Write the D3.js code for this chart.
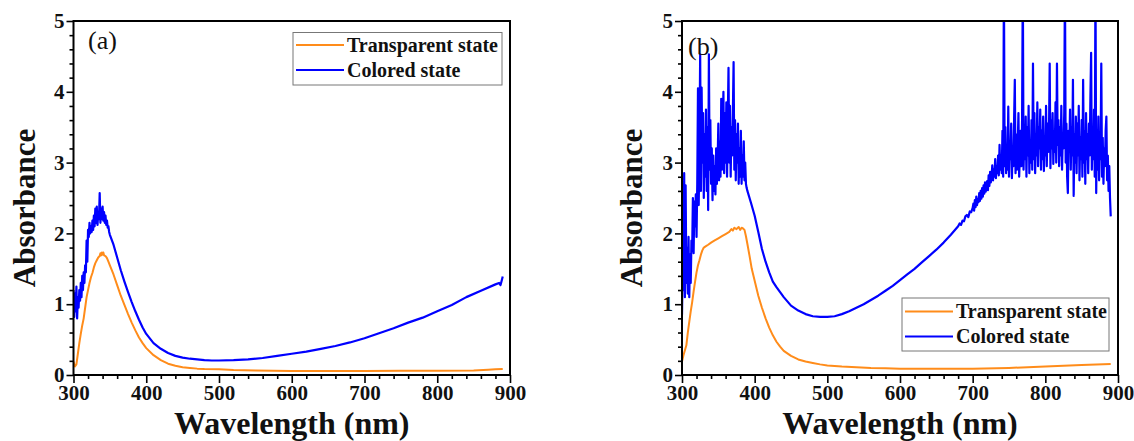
<!DOCTYPE html>
<html>
<head>
<meta charset="utf-8">
<script src="https://cdn.jsdelivr.net/npm/d3@7/dist/d3.min.js"></script>
<style>
  html, body { margin: 0; padding: 0; background: #fff; }
  svg { display: block; }
  text { font-family: "Liberation Serif", "Times New Roman", serif; }
</style>
</head>
<body>
<svg id="chart" width="1134" height="441"></svg>
<script>
// ---- axis ticks ----
const xTickLabels = [300, 400, 500, 600, 700, 800, 900];
const yTickLabels = [0, 1, 2, 3, 4, 5];
const seriesNames = ["Transparent state", "Colored state"];
const panelTags = ["(a)", "(b)"];

// ---- panel (a): [wavelength nm, absorbance] ----
const transparentA = [
  [300,0.19],[302,0.12],[304,0.15],[306,0.30],[308,0.45],[310,0.58],[312,0.70],[314,0.80],
  [316,0.95],[318,1.10],[320,1.20],[322,1.30],[324,1.38],[326,1.44],[328,1.52],[330,1.58],
  [332,1.62],[334,1.66],[336,1.68],[337,1.72],[338,1.69],[339,1.73],[340,1.70],[341,1.73],
  [342,1.69],[344,1.68],[346,1.65],[348,1.60],[350,1.55],[355,1.42],[360,1.27],[365,1.12],
  [370,0.99],[375,0.86],[380,0.74],[385,0.63],[390,0.53],[395,0.45],[400,0.38],[410,0.28],
  [420,0.21],[430,0.16],[440,0.13],[450,0.11],[460,0.10],[470,0.09],[480,0.085],[500,0.08],
  [520,0.07],[550,0.065],[600,0.055],[650,0.055],[700,0.058],[750,0.06],[800,0.06],
  [850,0.065],[870,0.075],[880,0.08],[890,0.085]
];
const coloredA = [
  [300,1.20],[301,0.82],[302,1.15],[303,0.90],[304,1.25],[305,0.80],[306,1.10],[307,0.95],
  [308,1.20],[309,1.05],[310,1.30],[311,1.10],[312,1.40],[313,1.20],[314,1.45],[315,1.30],
  [316,1.55],[317,1.45],[318,1.90],[319,1.60],[320,2.05],[321,1.95],[322,2.15],[323,2.00],
  [324,2.10],[325,2.02],[326,2.18],[327,2.05],[328,2.25],[329,2.10],[330,2.35],[331,2.15],
  [332,2.38],[333,2.12],[334,2.30],[335,2.20],[336,2.57],[337,2.15],[338,2.35],[339,2.20],
  [340,2.38],[341,2.18],[342,2.30],[343,2.15],[344,2.25],[345,2.12],[346,2.18],[347,2.08],
  [348,2.10],[349,2.02],[350,1.98],[355,1.84],[360,1.66],[365,1.48],[370,1.32],[375,1.17],
  [380,1.03],[385,0.90],[390,0.78],[395,0.67],[400,0.58],[410,0.45],[420,0.37],[430,0.31],
  [440,0.27],[450,0.245],[460,0.23],[470,0.22],[480,0.21],[490,0.205],[500,0.205],[520,0.21],
  [540,0.22],[560,0.24],[580,0.27],[600,0.30],[620,0.33],[640,0.37],[660,0.41],[680,0.46],
  [700,0.52],[720,0.59],[740,0.66],[760,0.74],[780,0.81],[800,0.90],[820,0.99],[840,1.10],
  [860,1.19],[880,1.28],[885,1.30],[887,1.27],[889,1.35],[890,1.39]
];

// ---- panel (b): [wavelength nm, absorbance] ----
const transparentB = [
  [300,0.19],[302,0.28],[304,0.35],[306,0.42],[308,0.60],[310,0.75],[312,0.90],[314,1.03],
  [316,1.18],[318,1.32],[320,1.45],[322,1.55],[324,1.62],[326,1.70],[328,1.76],[330,1.80],
  [333,1.82],[336,1.84],[340,1.87],[345,1.90],[350,1.93],[355,1.96],[360,1.99],[365,2.02],
  [368,2.06],[370,2.04],[372,2.08],[375,2.06],[378,2.09],[380,2.05],[382,2.08],[384,2.07],
  [386,2.05],[388,1.96],[390,1.85],[393,1.68],[396,1.50],[400,1.33],[405,1.12],[410,0.95],
  [415,0.80],[420,0.67],[425,0.56],[430,0.47],[435,0.40],[440,0.34],[450,0.27],[460,0.22],
  [470,0.19],[480,0.17],[490,0.15],[500,0.135],[520,0.12],[540,0.11],[560,0.10],[580,0.095],
  [600,0.09],[650,0.088],[700,0.09],[750,0.10],[800,0.12],[850,0.14],[890,0.155]
];
const coloredB = [
  [300,0.85],[301,1.60],[302,1.20],[303,2.85],[304,1.10],[305,2.68],[306,1.30],[307,1.80],
  [308,1.15],[309,1.95],[310,1.10],[311,1.70],[312,1.30],[313,1.90],[314,1.75],[315,2.50],
  [316,1.72],[317,2.45],[318,2.10],[319,2.55],[320,1.95],[321,2.70],[322,4.05],[323,2.40],
  [324,3.20],[325,4.53],[326,2.60],[327,4.06],[328,3.00],[329,3.70],[330,2.50],[331,3.40],
  [332,2.80],[333,3.75],[334,2.60],[335,3.50],[336,2.33],[337,4.53],[338,2.90],[339,3.60],
  [340,2.70],[341,3.20],[342,2.47],[343,3.10],[344,2.60],[345,2.95],[346,2.55],[347,3.20],
  [348,2.70],[349,3.00],[350,3.55],[351,2.75],[352,3.30],[353,2.80],[354,3.90],[355,2.90],
  [356,3.50],[357,4.00],[358,2.85],[359,3.70],[360,3.00],[361,3.85],[362,2.80],[363,3.60],
  [364,4.34],[365,3.00],[366,3.80],[367,2.80],[368,3.50],[369,3.10],[370,3.70],[371,4.42],
  [372,2.90],[373,3.60],[374,2.75],[375,3.40],[376,3.00],[377,3.55],[378,2.70],[379,3.20],
  [380,2.80],[381,3.45],[382,2.70],[383,3.10],[384,2.80],[385,3.30],[386,2.75],[387,3.00],
  [388,2.70],[389,2.64],[390,2.60],[395,2.43],[400,2.25],[405,2.02],[410,1.78],[415,1.60],
  [420,1.45],[425,1.32],[430,1.24],[435,1.17],[440,1.10],[450,0.98],[460,0.91],[470,0.86],
  [480,0.83],[490,0.82],[500,0.82],[510,0.83],[520,0.86],[530,0.90],[540,0.95],[550,1.00],
  [560,1.06],[570,1.12],[580,1.19],[590,1.26],[600,1.34],[610,1.42],[620,1.50],[630,1.59],
  [640,1.68],[650,1.77],[660,1.87],[670,1.98],[680,2.10],[682,2.14],[684,2.12],[686,2.18],
  [688,2.17],[690,2.24],[692,2.26],[694,2.23],[696,2.31],[698,2.30],
  [700,2.36],[701,2.42],[702,2.32],[703,2.47],[704,2.37],[705,2.52],[706,2.40],[707,2.48],
  [708,2.44],[709,2.57],[710,2.46],[711,2.60],[712,2.49],[713,2.64],[714,2.52],[715,2.68],
  [716,2.56],[717,2.72],[718,2.59],[719,2.66],[720,2.74],[721,2.61],[722,2.82],[723,2.67],
  [724,2.87],[725,2.72],[726,2.80],[727,2.96],[728,2.75],[729,2.90],[730,2.80],[731,3.05],
  [732,2.78],[733,2.95],[734,2.85],[735,3.10],[736,2.82],[737,3.25],[738,2.90],[739,3.00],
  [740,2.85],[741,3.45],[742,2.80],[743,5.60],[744,2.95],[745,3.50],[746,2.85],[747,3.20],
  [748,2.90],[749,3.79],[750,2.80],[751,3.30],[752,3.05],[753,3.55],[754,2.78],[755,3.20],
  [756,2.95],[757,3.60],[758,4.17],[759,2.85],[760,3.40],[761,2.90],[762,3.25],[763,3.70],
  [764,2.80],[765,3.15],[766,3.45],[767,2.95],[768,3.60],[769,5.60],[770,2.90],[771,3.35],
  [772,3.05],[773,3.65],[774,2.80],[775,3.50],[776,3.10],[777,3.80],[778,2.85],[779,3.30],
  [780,3.00],[781,3.60],[782,2.90],[783,4.40],[784,3.05],[785,3.70],[786,2.85],[787,3.40],
  [788,3.10],[789,3.85],[790,2.95],[791,3.50],[792,3.20],[793,3.75],[794,2.90],[795,3.45],
  [796,3.05],[797,3.65],[798,2.88],[799,3.30],[800,3.10],[801,3.80],[802,2.95],[803,3.55],
  [804,3.15],[805,3.40],[806,4.40],[807,2.92],[808,3.60],[809,3.20],[810,3.70],[811,2.98],
  [812,3.45],[813,3.15],[814,3.85],[815,3.00],[816,4.40],[817,3.25],[818,3.60],[819,2.95],
  [820,3.50],[821,3.10],[822,3.80],[823,2.90],[824,3.40],[825,3.20],[826,3.70],[827,5.60],
  [828,3.00],[829,3.55],[830,2.80],[831,2.57],[832,3.45],[833,3.15],[834,3.75],[835,2.90],
  [836,3.50],[837,3.10],[838,4.17],[839,2.53],[840,3.40],[841,3.00],[842,3.65],[843,2.85],
  [844,3.55],[845,3.10],[846,3.80],[847,2.75],[848,3.35],[849,3.05],[850,3.60],[851,2.80],
  [852,4.17],[853,3.00],[854,3.45],[855,2.70],[856,3.70],[857,3.05],[858,3.40],[859,2.85],
  [860,3.55],[861,3.10],[862,3.90],[863,4.55],[864,2.90],[865,3.50],[866,3.05],[867,3.75],
  [868,2.80],[869,5.60],[870,2.57],[871,3.40],[872,2.90],[873,3.65],[874,2.75],[875,3.30],
  [876,3.05],[877,4.40],[878,2.80],[879,3.35],[880,2.70],[881,3.20],[882,2.95],[883,3.45],
  [884,3.65],[885,2.75],[886,3.10],[887,2.60],[888,2.95],[889,2.50],[890,2.24]
];

const colors = { transparent: "#ff8c1a", colored: "#0000ff" };

const svg = d3.select("#chart");
svg.append("rect").attr("width", 1134).attr("height", 441).attr("fill", "#fff");

const panels = [
  { id: "a", left: 73.5, right: 510, top: 21, bottom: 375,
    transparent: transparentA, colored: coloredA, tag: panelTags[0],
    tagX: 88, tagY: 49, yTitleX: 35,
    legend: { x: 293, y: 32.5, w: 209, h: 52.5, row1: 45, row2: 70 } },
  { id: "b", left: 682, right: 1118, top: 21, bottom: 375,
    transparent: transparentB, colored: coloredB, tag: panelTags[1],
    tagX: 688, tagY: 55, yTitleX: 642,
    legend: { x: 902, y: 298, w: 207, h: 53, row1: 311.5, row2: 336.5 } }
];

panels.forEach(p => {
  const g = svg.append("g");
  const x = d3.scaleLinear().domain([300, 900]).range([p.left, p.right]);
  const y = d3.scaleLinear().domain([0, 5]).range([p.bottom, p.top]);

  // clip so spikes stop at the frame
  svg.append("clipPath").attr("id", "clip-" + p.id)
    .append("rect").attr("x", p.left).attr("y", p.top)
    .attr("width", p.right - p.left).attr("height", p.bottom - p.top);

  // minor ticks
  const xMinor = d3.range(300, 901, 20).filter(v => v % 100 !== 0);
  const yMinor = d3.range(0, 5.001, 0.2).filter(v => Math.abs(v - Math.round(v)) > 1e-6);
  g.append("g").attr("transform", `translate(0,${p.bottom})`)
    .call(d3.axisBottom(x).tickValues(xMinor).tickSize(4).tickFormat(""))
    .call(a => a.select(".domain").remove());
  g.append("g").attr("transform", `translate(${p.left},0)`)
    .call(d3.axisLeft(y).tickValues(yMinor).tickSize(4).tickFormat(""))
    .call(a => a.select(".domain").remove());

  // major ticks with labels
  const xa = g.append("g").attr("transform", `translate(0,${p.bottom})`)
    .call(d3.axisBottom(x).tickValues(xTickLabels).tickSize(8).tickPadding(2).tickFormat(d3.format("d")));
  const ya = g.append("g").attr("transform", `translate(${p.left},0)`)
    .call(d3.axisLeft(y).tickValues(yTickLabels).tickSize(7).tickPadding(2).tickFormat(d3.format("d")));
  [xa, ya].forEach(a => {
    a.select(".domain").remove();
    a.selectAll("text").attr("font-family", "Liberation Serif, Times New Roman, serif")
      .attr("font-weight", "bold").attr("font-size", 21).attr("fill", "#111");
  });
  g.selectAll(".tick line").attr("stroke", "#000").attr("stroke-width", 1.6);

  // data lines
  const line = d3.line().x(d => x(d[0])).y(d => y(d[1]));
  const lines = g.append("g").attr("clip-path", `url(#clip-${p.id})`);
  lines.append("path").datum(p.transparent)
    .attr("d", line).attr("fill", "none").attr("stroke", colors.transparent)
    .attr("stroke-width", 2).attr("stroke-linejoin", "round");
  lines.append("path").datum(p.colored)
    .attr("d", line).attr("fill", "none").attr("stroke", colors.colored)
    .attr("stroke-width", 2.2).attr("stroke-linejoin", "round");

  // frame
  g.append("rect").attr("x", p.left).attr("y", p.top)
    .attr("width", p.right - p.left).attr("height", p.bottom - p.top)
    .attr("fill", "none").attr("stroke", "#000").attr("stroke-width", 2);

  // panel tag
  g.append("text").attr("x", p.tagX).attr("y", p.tagY)
    .attr("font-size", 26).attr("fill", "#111").text(p.tag);

  // axis titles
  g.append("text")
    .attr("transform", `translate(${p.yTitleX},${(p.top + p.bottom) / 2 + 10}) rotate(-90)`)
    .attr("text-anchor", "middle").attr("font-weight", "bold").attr("font-size", 31)
    .attr("fill", "#111").text("Absorbance");
  g.append("text")
    .attr("x", (p.left + p.right) / 2).attr("y", 434)
    .attr("text-anchor", "middle").attr("font-weight", "bold").attr("font-size", 32)
    .attr("fill", "#111").text("Wavelength (nm)");

  // legend
  const L = p.legend;
  const lg = g.append("g");
  lg.append("rect").attr("x", L.x).attr("y", L.y).attr("width", L.w).attr("height", L.h)
    .attr("fill", "#fff").attr("stroke", "#777").attr("stroke-width", 1);
  [[L.row1, colors.transparent, seriesNames[0]], [L.row2, colors.colored, seriesNames[1]]]
    .forEach(([ry, c, name]) => {
      lg.append("line").attr("x1", L.x + 3).attr("x2", L.x + 51)
        .attr("y1", ry).attr("y2", ry).attr("stroke", c).attr("stroke-width", 2);
      lg.append("text").attr("x", L.x + 54).attr("y", ry + 6.5)
        .attr("font-weight", "bold").attr("font-size", 20).attr("fill", "#111").text(name);
    });
});
</script>
</body>
</html>
